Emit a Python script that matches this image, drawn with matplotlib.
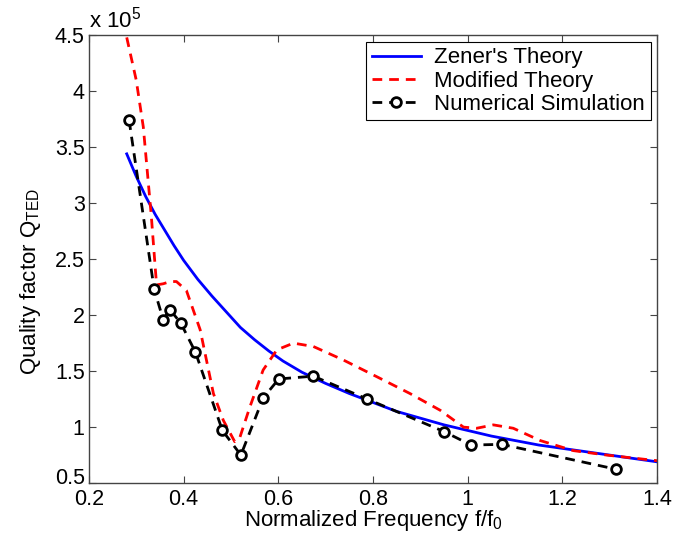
import matplotlib
matplotlib.use("Agg")
import matplotlib.pyplot as plt
import matplotlib.transforms as mtransforms

plt.rcParams['font.family'] = ['Liberation Sans', 'DejaVu Sans']

# Zener's theory (Q in units of 1e5)
zener_f = [0.28, 0.30, 0.32, 0.34, 0.36, 0.38, 0.40, 0.43, 0.46, 0.49, 0.52,
           0.55, 0.58, 0.61, 0.65, 0.70, 0.75, 0.80, 0.85, 0.90, 0.95, 1.00,
           1.05, 1.10, 1.15, 1.20, 1.25, 1.30, 1.35, 1.40]
zener_q = [3.44, 3.24, 3.06, 2.90, 2.76, 2.62, 2.49, 2.32, 2.17, 2.03, 1.89,
           1.78, 1.68, 1.59, 1.49, 1.39, 1.30, 1.22, 1.14, 1.08, 1.02, 0.97,
           0.92, 0.88, 0.84, 0.81, 0.78, 0.75, 0.72, 0.69]

# Modified theory
mod_f = [0.280, 0.300, 0.315, 0.332, 0.339, 0.343, 0.357, 0.372, 0.385, 0.406,
         0.435, 0.463, 0.484, 0.508, 0.519, 0.540, 0.568, 0.597, 0.632, 0.674,
         0.737, 0.808, 0.878, 0.942, 0.991, 1.019, 1.054, 1.096, 1.153, 1.223,
         1.294, 1.400]
mod_q = [4.48, 4.10, 3.68, 2.88, 2.49, 2.27, 2.28, 2.30, 2.30, 2.22,
         1.87, 1.30, 1.06, 0.87, 0.91, 1.18, 1.51, 1.69, 1.75, 1.72,
         1.60, 1.45, 1.30, 1.15, 1.00, 0.99, 1.02, 0.99, 0.88, 0.79,
         0.75, 0.70]

# Numerical simulation
sim_f = [0.285, 0.338, 0.357, 0.371, 0.394, 0.425, 0.482, 0.521, 0.568, 0.601,
         0.674, 0.788, 0.950, 1.007, 1.072, 1.312]
sim_q = [3.74, 2.23, 1.96, 2.05, 1.93, 1.67, 0.97, 0.75, 1.26, 1.43,
         1.455, 1.25, 0.96, 0.84, 0.846, 0.625]

x_ticks = [0.2, 0.4, 0.6, 0.8, 1.0, 1.2, 1.4]
x_tick_labels = ['0.2', '0.4', '0.6', '0.8', '1', '1.2', '1.4']
y_ticks = [0.5, 1.0, 1.5, 2.0, 2.5, 3.0, 3.5, 4.0, 4.5]
y_tick_labels = ['0.5', '1', '1.5', '2', '2.5', '3', '3.5', '4', '4.5']

fig = plt.figure(figsize=(6.94, 5.41), dpi=100)
ax = fig.add_axes([0.128, 0.107, 0.819, 0.828])

ax.plot(zener_f, zener_q, color='#0000ff', lw=2.0, label="Zener's Theory")
ax.plot(mod_f, mod_q, color='#ff0000', lw=2.0, ls=(0, (3.5, 2.5)), label='Modified Theory')
ax.plot(sim_f, sim_q, color='black', lw=2.0, ls=(0, (3.5, 2.5)), marker='o',
        markersize=7, markerfacecolor='white', markeredgecolor='black',
        markeredgewidth=2.0, label='Numerical Simulation')

ax.set_xlim(0.2, 1.4)
ax.set_ylim(0.5, 4.5)
ax.set_xticks(x_ticks)
ax.set_xticklabels(x_tick_labels)
ax.set_yticks(y_ticks)
ax.set_yticklabels(y_tick_labels)
ax.tick_params(direction='in', top=True, right=True, labelsize=15.5, length=5,
               color='#444444')
ax.tick_params(axis='x', pad=4)
ax.tick_params(axis='y', pad=3)
for s in ax.spines.values():
    s.set_color('#444444')
    s.set_linewidth(1.0)

# lift the lowest y tick label slightly so it sits above the x tick labels
lbl = ax.get_yticklabels()[0]
lbl.set_transform(lbl.get_transform() +
                  mtransforms.ScaledTranslation(0, 5 / 72, fig.dpi_scale_trans))

ax.set_xlabel(r'Normalized Frequency f/f$_{\mathregular{0}}$', fontsize=16, labelpad=-1)
ax.set_ylabel(r'Quality factor Q$_{\mathregular{TED}}$', fontsize=16)
ax.yaxis.set_label_coords(-0.08, 0.45)

ax.text(0.0, 1.005, r'x 10$^{\mathregular{5}}$', transform=ax.transAxes,
        fontsize=16, ha='left', va='bottom')

leg = ax.legend(loc='upper right', fontsize=16, frameon=True, fancybox=False,
                edgecolor='black', framealpha=1.0, borderpad=0.25,
                labelspacing=0.1, handlelength=2.2, handletextpad=0.6,
                borderaxespad=0.3)
leg.get_frame().set_linewidth(0.8)

fig.savefig('out.png', dpi=100)
